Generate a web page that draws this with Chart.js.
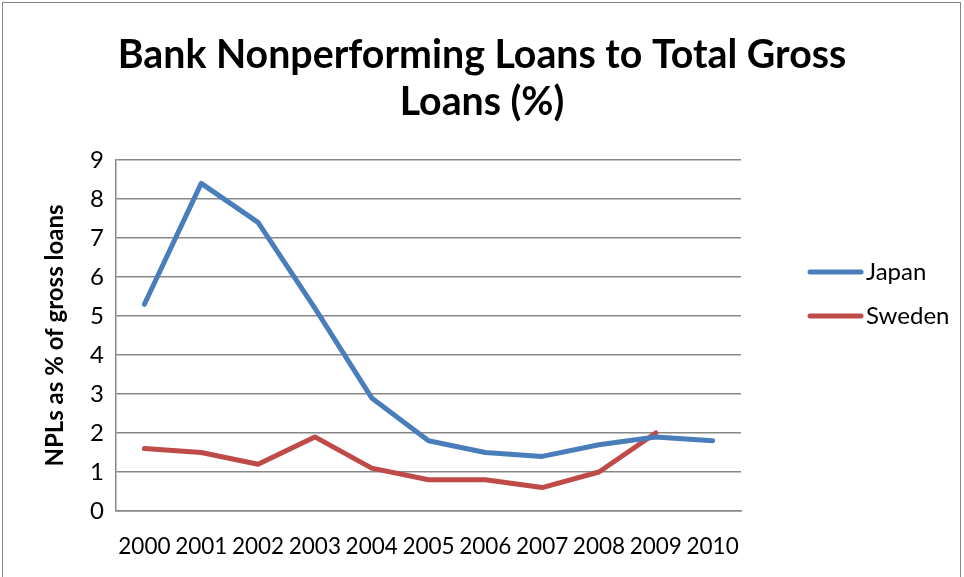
<!DOCTYPE html>
<html>
<head>
<meta charset="utf-8">
<script src="https://cdn.jsdelivr.net/npm/chart.js@4"></script>
<style>
  html, body { margin: 0; padding: 0; background: #ffffff; overflow: hidden; }
  #wrap { position: relative; width: 964px; height: 577px; }
  #c { position: absolute; left: 0; top: 0; }
  #frame { position: absolute; left: 2px; top: 2px; width: 957px; height: 620px;
           border: 1.5px solid #878787; pointer-events: none; }
</style>
</head>
<body>
<div id="wrap">
  <canvas id="c" width="964" height="577"></canvas>
  <div id="frame"></div>
</div>
<script>
// Years on the category axis
const years = ['2000','2001','2002','2003','2004','2005','2006','2007','2008','2009','2010'];
// Nonperforming loans as % of gross loans
const japanNPL  = [5.3, 8.4, 7.4, 5.2, 2.9, 1.8, 1.5, 1.4, 1.7, 1.9, 1.8];
const swedenNPL = [1.6, 1.5, 1.2, 1.9, 1.1, 0.8, 0.8, 0.6, 1.0, 2.0, null];
// Value-axis ticks
const yTicks = [0, 1, 2, 3, 4, 5, 6, 7, 8, 9];
// Chart heading, one entry per line
const titleLines = ['Bank Nonperforming Loans to Total Gross', 'Loans (%)'];

const FONT = 'Lato, "Open Sans", sans-serif';
const LINE_W = 5;

// Heading centred across the whole canvas (the legend column included)
const heading = {
  id: 'heading',
  afterDraw(chart) {
    const ctx = chart.ctx;
    ctx.save();
    ctx.fillStyle = '#000000';
    ctx.font = 'bold 39.3px ' + FONT;
    ctx.textAlign = 'center';
    ctx.textBaseline = 'alphabetic';
    titleLines.forEach((t, i) => ctx.fillText(t, chart.width / 2, 68 + i * 47));
    ctx.restore();
  }
};

// Legend at the right, line sample followed by the series name
const sideLegend = {
  id: 'sideLegend',
  afterDraw(chart) {
    const ctx = chart.ctx;
    const rows = [272, 316];
    ctx.save();
    chart.data.datasets.forEach((ds, i) => {
      const y = rows[i];
      ctx.strokeStyle = ds.borderColor;
      ctx.lineWidth = LINE_W;
      ctx.lineCap = 'round';
      ctx.beginPath();
      ctx.moveTo(810, y);
      ctx.lineTo(861, y);
      ctx.stroke();
      ctx.fillStyle = '#000000';
      ctx.font = '24px ' + FONT;
      ctx.textAlign = 'left';
      ctx.textBaseline = 'middle';
      ctx.fillText(ds.label, 866, y);
    });
    ctx.restore();
  }
};

new Chart(document.getElementById('c'), {
  type: 'line',
  data: {
    labels: years,
    datasets: [
      { label: 'Japan',  data: japanNPL,  borderColor: '#4a7ebb', backgroundColor: '#4a7ebb', borderWidth: LINE_W },
      { label: 'Sweden', data: swedenNPL, borderColor: '#be4b48', backgroundColor: '#be4b48', borderWidth: LINE_W }
    ]
  },
  options: {
    responsive: false,
    animation: false,
    devicePixelRatio: 1,
    layout: { padding: { left: 0, right: 223, top: 160, bottom: 0 } },
    elements: {
      line: { tension: 0, borderCapStyle: 'round', borderJoinStyle: 'round' },
      point: { radius: 0, hoverRadius: 0 }
    },
    plugins: {
      legend: { display: false },
      tooltip: { enabled: false },
      title: { display: false }
    },
    scales: {
      x: {
        offset: true,
        grid: { display: false, drawTicks: false },
        border: { display: true, color: '#878787', width: 1.5 },
        ticks: { color: '#000000', font: { family: FONT, size: 22.5 }, padding: 22, maxRotation: 0, autoSkip: false },
        afterFit(scale) { scale.height = 66; }
      },
      y: {
        min: 0,
        max: 9,
        afterBuildTicks(scale) { scale.ticks = yTicks.map(v => ({ value: v })); },
        grid: { color: '#878787', lineWidth: 1.5, drawTicks: false },
        border: { display: true, color: '#878787', width: 1.5 },
        ticks: { color: '#000000', font: { family: FONT, size: 24 }, padding: 12 },
        title: {
          display: true,
          text: 'NPLs as % of gross loans',
          color: '#000000',
          font: { family: FONT, size: 24, weight: 'bold', lineHeight: 1.2 },
          padding: { top: 41, bottom: 0 }
        },
        afterFit(scale) { scale.width = 116; }
      }
    }
  },
  plugins: [heading, sideLegend]
});
</script>
</body>
</html>
